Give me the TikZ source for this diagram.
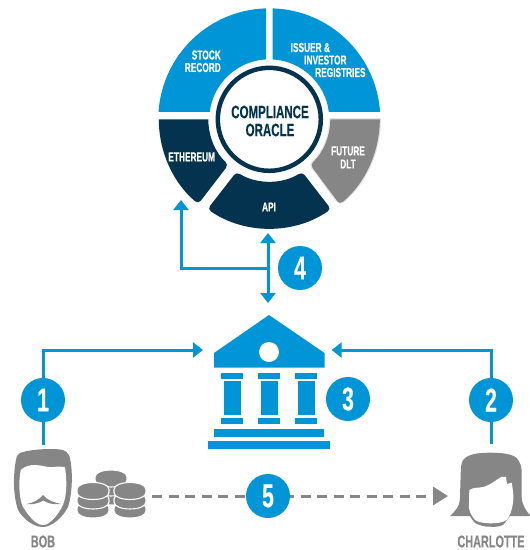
\documentclass[tikz,border=0pt]{standalone}
\usepackage{fontspec}
\setmainfont[FakeStretch=0.64,BoldFont={Liberation Sans Bold},BoldFeatures={FakeStretch=0.64,FakeBold=0.3}]{Liberation Sans}
\usetikzlibrary{arrows.meta}
\definecolor{bl}{HTML}{0095D6}
\definecolor{navy}{HTML}{04334F}
\definecolor{gy}{HTML}{868686}
\newcommand{\fsz}[1]{\fontsize{#1}{#1}\selectfont\bfseries}
\newcommand{\coin}[2]{\draw[coinst,shift={(#1,#2)}] (-16,3) .. controls (-16,12.3) and (16,12.3) .. (16,3) -- (16,0) .. controls (16,-9.3) and (-16,-9.3) .. (-16,0) -- cycle;}
\tikzset{
  seg/.style={fill=#1,draw=none},
  lab/.style={text=white,font=\fsz{13},inner sep=0pt,align=center},
  num/.style={circle,fill=bl,text=white,minimum size=44pt,inner sep=0pt,font=\fsz{33}},
  conn/.style={draw=bl,line width=3pt,-{Triangle[length=10pt,width=15pt]}},
  who/.style={text=gy,font=\fsz{17},inner sep=0pt},
  pillar/.style={fill=bl,draw=none},
  coinst/.style={fill=gy,draw=white,line width=1.1pt}
}
\begin{document}
\begin{tikzpicture}[x=1pt,y=-1pt]
\useasboundingbox (0,0) rectangle (530,550);
% wheel
\begin{scope}[y=1pt,shift={(269.3,-119.3)}]
\fill[seg=bl] (91.7:111) arc (91.7:176.2:111) -- (173:60) arc (173:93.2:60) -- cycle;
\fill[seg=bl] (88.3:111) arc (88.3:3.8:111) -- (7:60) arc (7:86.8:60) -- cycle;
\draw[black!10,line width=2.5pt] (0:61) -- (0:110.5) [rounded corners=4pt] arc (0:-50.4:110.5) -- (-48:61) [sharp corners] arc (-48:0:61) -- cycle;
\fill[seg=gy] (0:61) -- (0:110.5) [rounded corners=4pt] arc (0:-50.4:110.5) -- (-48:61) [sharp corners] arc (-48:0:61) -- cycle;
\fill[seg=navy] (180:61) -- (180:110.5) [rounded corners=4pt] arc (180:230:110.5) -- (228:61) [sharp corners] arc (228:180:61) -- cycle;
\fill[seg=navy,rounded corners=4pt] (-124.5:109) arc (-124.5:-55.5:109) -- (-58:62) arc (-58:-122:62) -- cycle;
\node[circle,draw=navy,line width=4.5pt,fill=white,minimum size=103pt,inner sep=0pt] (ring) at (0,0) {};
\end{scope}
\node[inner sep=0pt,text=navy,align=center,font=\fsz{18}] (oracle) at (270,121) {COMPLIANCE\\ORACLE};
\node[lab,anchor=east] (stock) at (221,55) {STOCK};
\node[lab,anchor=east] (record) at (221,67.5) {RECORD};
\node[lab,anchor=west] (issuer) at (290.5,47.5) {ISSUER \&};
\node[lab,anchor=west] (investor) at (304,60) {INVESTOR};
\node[lab,anchor=west] (regs) at (315,72.5) {REGISTRIES};
\node[lab] (eth) at (191.7,157) {ETHEREUM};
\node[lab] (future) at (348,151) {FUTURE};
\node[lab] (dlt) at (348,164) {DLT};
\node[lab] (api) at (269,207) {API};
% anchors for connectors
\coordinate (ethIn) at (181,200);
\coordinate (apiIn) at (268,233);
\coordinate (bankTop) at (268,303);
\coordinate (junction) at (268,268);
\coordinate (bankL) at (203,350);
\coordinate (bankR) at (331.7,350);
\coordinate (bobTop) at (43,445);
\coordinate (chaTop) at (491,444);
\coordinate (cornerL) at (43,350);
\coordinate (cornerR) at (491,350);
\coordinate (cornerE) at (181,268);
\coordinate (coins) at (152,496);
\coordinate (chaIn) at (448,496);
% connectors
\draw[conn] (bobTop) -- (cornerL) -- (bankL);
\draw[conn] (chaTop) -- (cornerR) -- (bankR);
\draw[conn,{Triangle[length=10pt,width=15pt]}-{Triangle[length=10pt,width=15pt]}] (bankTop) -- (apiIn);
\draw[conn] (junction) -- (cornerE) -- (ethIn);
\draw[draw=gy,line width=3pt,dash pattern=on 10pt off 6.5pt,-{Triangle[length=15pt,width=18pt]}] (coins) -- (chaIn);
% number badges
\node[num] (n1) at (43,400) {1};
\node[num] (n2) at (491,400) {2};
\node[num] (n3) at (348,399) {3};
\node[num] (n4) at (300,268) {4};
\node[num] (n5) at (268,496) {5};
% bank
\fill[pillar] (269,315) -- (324.5,353) -- (324.5,367.5) -- (214,367.5) -- (214,353) -- cycle;
\fill[white] (269,352) circle (10);
\foreach \c in {232,269,306}{
  \fill[pillar] (\c-11,373) rectangle (\c+11,378.5);
  \fill[pillar] (\c-8.5,381) rectangle (\c+8.5,415);
  \fill[pillar] (\c-11,418) rectangle (\c+11,424);
}
\fill[pillar] (214,429) rectangle (324,436.5);
\fill[pillar] (208,441) rectangle (330,449);
% Bob
\fill[gy] (20,453) .. controls (30,449) and (55,448) .. (63,450) .. controls (68,452) and (70,456) .. (70.5,461)
  .. controls (73,475) and (72,495) .. (68,507) .. controls (63,517) and (52,527) .. (43,527)
  .. controls (34,527) and (24,520) .. (18,510) .. controls (13,495) and (13,475) .. (16,460) .. controls (16.5,456) and (18,454) .. (20,453) -- cycle;
\fill[white] (20.7,470) .. controls (25,466) and (30,465) .. (35,465) .. controls (42,465) and (48,468) .. (54,467)
  .. controls (58,466) and (62,467) .. (65,467) .. controls (67,480) and (67,495) .. (63,505)
  .. controls (58,515) and (50,525) .. (43,525) .. controls (35,525) and (27,514) .. (22,505) .. controls (19,495) and (18.5,482) .. (20.7,470) -- cycle;
\fill[gy] (26.5,504) .. controls (33,503) and (39,500) .. (43,495) .. controls (47,500) and (54,503) .. (61.5,504) .. controls (53,505) and (47,503) .. (43.5,500.5) .. controls (39,503) and (33,505) .. (26.5,504) -- cycle;
\node[who] (bob) at (43,541.5) {BOB};
% coins
\coin{111}{495}
\coin{111}{486}
\coin{111}{477}
\coin{93}{508}
\coin{93}{499}
\coin{93}{489.5}
\coin{130}{508}
\coin{130}{499}
\coin{130}{489.5}
% Charlotte
\fill[gy] (490,452.7) .. controls (503,452.7) and (512,454) .. (516.7,458) .. controls (521,463) and (521.7,468) .. (521.7,473)
  -- (521.7,497) .. controls (522,505) and (526,511) .. (530.7,516) -- (510,516)
  .. controls (507,520) and (505,523) .. (503,525) .. controls (498,527) and (494,527) .. (490,526.7)
  .. controls (484,527) and (479,525) .. (475,523) .. controls (473,521) and (471,518) .. (470,516) -- (450,516)
  .. controls (455,511) and (460,507) .. (460,497) -- (460.7,473) .. controls (461,468) and (461,464) .. (463,460)
  .. controls (468,454) and (478,452.7) .. (490,452.7) -- cycle;
\fill[white] (469.3,490) .. controls (474,487) and (479,488) .. (483,487) .. controls (491,485) and (497,479) .. (501.7,476.7)
  -- (506,477) -- (507,484) -- (511.7,482.7) .. controls (513,490) and (514,497) .. (513,503)
  .. controls (512,510) and (510,516) .. (506.7,520) .. controls (502,523) and (496,523.3) .. (490,523.3)
  .. controls (484,523.3) and (478,522) .. (475,520) .. controls (471,515) and (468,510) .. (469,503) -- cycle;
\node[who] (charlotte) at (491,541.5) {CHARLOTTE};
\end{tikzpicture}
\end{document}
